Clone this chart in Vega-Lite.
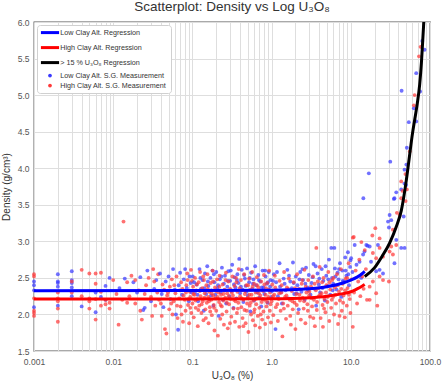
{
"$schema":"https://vega.github.io/schema/vega-lite/v6.json",
"autosize":{"type":"none"},
"width":396,"height":329,
"padding":{"left":34,"top":22,"right":16,"bottom":31},
"background":"white",
"config":{"font":"Liberation Sans","view":{"stroke":"#555555","strokeWidth":1.3}},
"title":{"text":"Scatterplot: Density vs Log U₃O₈","fontSize":13.5,"font":"Liberation Sans","fontWeight":"normal","color":"#333333","offset":5},
"datasets":{
"lines":[
{"s":"a","x":0.001,"y":2.325},{"s":"a","x":0.1,"y":2.326},{"s":"a","x":1,"y":2.33},{"s":"a","x":3,"y":2.35},{"s":"a","x":5,"y":2.38},{"s":"a","x":8,"y":2.43},{"s":"a","x":10,"y":2.47},{"s":"a","x":12,"y":2.51},{"s":"a","x":14,"y":2.56},{"s":"a","x":15,"y":2.59},
{"s":"b","x":0.001,"y":2.21},{"s":"b","x":0.1,"y":2.211},{"s":"b","x":1,"y":2.215},{"s":"b","x":3,"y":2.23},{"s":"b","x":5,"y":2.25},{"s":"b","x":8,"y":2.285},{"s":"b","x":10,"y":2.31},{"s":"b","x":12,"y":2.35},{"s":"b","x":14,"y":2.39},{"s":"b","x":15,"y":2.41},
{"s":"c","x":15,"y":2.52},{"s":"c","x":20,"y":2.64},{"s":"c","x":25,"y":2.8},{"s":"c","x":31,"y":2.98},{"s":"c","x":37.5,"y":3.2},{"s":"c","x":43.4,"y":3.42},{"s":"c","x":50,"y":3.82},{"s":"c","x":55,"y":4.16},{"s":"c","x":60,"y":4.47},{"s":"c","x":64,"y":4.66},{"s":"c","x":69,"y":4.88},{"s":"c","x":74,"y":5.14},{"s":"c","x":78,"y":5.45},{"s":"c","x":81,"y":5.75},{"s":"c","x":84,"y":6.05}
],
"pts":[
{"s":"d","x":0.001,"y":2.45},{"s":"d","x":0.001,"y":2.4},{"s":"d","x":0.001,"y":2.33},{"s":"d","x":0.001,"y":2.1},
{"s":"e","x":0.001,"y":2.55},{"s":"e","x":0.001,"y":2.52},{"s":"e","x":0.001,"y":2.22},{"s":"e","x":0.001,"y":2.05},{"s":"e","x":0.001,"y":2.02},{"s":"e","x":0.001,"y":1.98},
{"s":"d","x":0.002,"y":2.55},{"s":"d","x":0.002,"y":2.45},{"s":"d","x":0.002,"y":2.43},{"s":"d","x":0.002,"y":2.38},{"s":"d","x":0.002,"y":2.12},
{"s":"e","x":0.002,"y":2.3},{"s":"e","x":0.002,"y":2.22},{"s":"e","x":0.002,"y":2.18},{"s":"e","x":0.002,"y":2.08},{"s":"e","x":0.002,"y":1.9},
{"s":"d","x":0.003,"y":2.59},{"s":"d","x":0.003,"y":2.47},{"s":"d","x":0.003,"y":2.43},{"s":"d","x":0.003,"y":2.37},{"s":"d","x":0.003,"y":2.25},
{"s":"e","x":0.003,"y":2.45},{"s":"e","x":0.003,"y":2.3},
{"s":"e","x":0.004,"y":2.61},{"s":"e","x":0.004,"y":2.25},{"s":"d","x":0.004,"y":2.11},
{"s":"e","x":0.005,"y":2.56},{"s":"e","x":0.005,"y":2.22},{"s":"e","x":0.005,"y":2.18},{"s":"e","x":0.005,"y":2.08},
{"s":"e","x":0.006,"y":2.56},{"s":"e","x":0.006,"y":2.42},{"s":"e","x":0.006,"y":2.21},{"s":"e","x":0.006,"y":1.93},{"s":"d","x":0.006,"y":2.03},{"s":"d","x":0.006,"y":2.3},
{"s":"e","x":0.007,"y":2.57},{"s":"e","x":0.007,"y":2.31},{"s":"e","x":0.007,"y":2.12},{"s":"d","x":0.007,"y":2.24},
{"s":"d","x":0.008,"y":2.39},{"s":"d","x":0.008,"y":2.2},{"s":"e","x":0.008,"y":2.2},{"s":"e","x":0.008,"y":2.14},
{"s":"e","x":0.009,"y":2.16},{"s":"e","x":0.009,"y":2.08},{"s":"d","x":0.009,"y":2.5},
{"s":"e","x":0.01,"y":2.47},{"s":"e","x":0.011,"y":2.28},{"s":"e","x":0.0117,"y":1.86},{"s":"e","x":0.0135,"y":3.27},{"s":"d","x":0.012,"y":2.36},{"s":"e","x":0.013,"y":2.2},{"s":"d","x":0.014,"y":2.49},{"s":"e","x":0.015,"y":2.44},{"s":"e","x":0.015,"y":2.16},{"s":"e","x":0.016,"y":2.25},{"s":"e","x":0.017,"y":2.53},{"s":"d","x":0.018,"y":2.44},{"s":"e","x":0.019,"y":2.47},{"s":"e","x":0.019,"y":2.15},{"s":"d","x":0.02,"y":2.3},{"s":"e","x":0.021,"y":2.33},{"s":"e","x":0.022,"y":2.05},{"s":"d","x":0.022,"y":2.51},{"s":"e","x":0.023,"y":1.93},{"s":"d","x":0.024,"y":2.06},{"s":"d","x":0.025,"y":2.09},{"s":"e","x":0.026,"y":2.4},{"s":"d","x":0.027,"y":2.6},{"s":"e","x":0.028,"y":2.5},{"s":"e","x":0.03,"y":2.24},{"s":"d","x":0.03,"y":2.18},{"s":"e","x":0.031,"y":1.98},{"s":"e","x":0.032,"y":2.62},{"s":"d","x":0.033,"y":2.35},{"s":"e","x":0.034,"y":2.12},{"s":"d","x":0.035,"y":2.47},{"s":"e","x":0.036,"y":2.3},{"s":"e","x":0.037,"y":2.55},{"s":"e","x":0.038,"y":2.2},{"s":"d","x":0.039,"y":2.56},{"s":"e","x":0.04,"y":2.15},{"s":"d","x":0.041,"y":2.28},{"s":"e","x":0.042,"y":2.41},{"s":"d","x":0.043,"y":2.1},{"s":"e","x":0.044,"y":2.34},{"s":"e","x":0.045,"y":1.8},{"s":"d","x":0.046,"y":2.45},{"s":"e","x":0.047,"y":1.74},{"s":"e","x":0.048,"y":2.26},{"s":"d","x":0.05,"y":2.52},{"s":"e","x":0.051,"y":2.07},{"s":"e","x":0.052,"y":2.38},{"s":"d","x":0.053,"y":2.21},{"s":"e","x":0.055,"y":2.48},{"s":"e","x":0.056,"y":2.0},{"s":"d","x":0.057,"y":2.62},{"s":"e","x":0.058,"y":2.18},{"s":"d","x":0.06,"y":2.34},{"s":"e","x":0.061,"y":2.29},{"s":"d","x":0.062,"y":2.0},{"s":"e","x":0.063,"y":2.52},{"s":"e","x":0.065,"y":1.95},{"s":"d","x":0.066,"y":1.79},{"s":"d","x":0.067,"y":2.4},{"s":"e","x":0.068,"y":2.22},{"s":"d","x":0.07,"y":2.57},{"s":"e","x":0.071,"y":2.11},{"s":"e","x":0.072,"y":2.44},{"s":"d","x":0.074,"y":2.27},{"s":"e","x":0.075,"y":2.35},{"s":"e","x":0.076,"y":1.9},{"s":"d","x":0.078,"y":2.48},{"s":"e","x":0.08,"y":2.2},{"s":"d","x":0.081,"y":2.62},{"s":"e","x":0.082,"y":2.05},{"s":"e","x":0.084,"y":2.4},{"s":"d","x":0.085,"y":2.36},{"s":"e","x":0.086,"y":2.56},{"s":"e","x":0.088,"y":2.13},{"s":"d","x":0.09,"y":2.18},{"s":"e","x":0.091,"y":1.88},{"s":"d","x":0.092,"y":2.52},{"s":"e","x":0.093,"y":2.31},{"s":"e","x":0.094,"y":2.24},{"s":"d","x":0.095,"y":2.43},{"s":"e","x":0.096,"y":2.61},{"s":"e","x":0.097,"y":2.02},{"s":"d","x":0.098,"y":2.3},{"s":"e","x":0.099,"y":2.46},
{"s":"e","x":0.025,"y":2.28},{"s":"e","x":0.033,"y":2.45},{"s":"e","x":0.041,"y":1.98},{"s":"e","x":0.049,"y":2.3},{"s":"e","x":0.054,"y":2.15},{"s":"e","x":0.059,"y":2.4},{"s":"e","x":0.064,"y":2.12},{"s":"e","x":0.069,"y":2.33},{"s":"e","x":0.073,"y":2.0},{"s":"e","x":0.077,"y":2.26},{"s":"e","x":0.083,"y":2.3},{"s":"e","x":0.087,"y":2.47},{"s":"e","x":0.089,"y":2.21},{"s":"e","x":0.094,"y":2.09},
{"s":"d","x":0.101,"y":2.52},{"s":"d","x":0.107,"y":2.3},{"s":"d","x":0.113,"y":2.41},{"s":"d","x":0.118,"y":2.18},{"s":"d","x":0.123,"y":2.62},{"s":"d","x":0.128,"y":2.35},{"s":"d","x":0.134,"y":2.47},{"s":"d","x":0.139,"y":2.05},{"s":"d","x":0.144,"y":2.56},{"s":"d","x":0.149,"y":2.28},{"s":"d","x":0.154,"y":2.66},{"s":"d","x":0.159,"y":2.39},{"s":"d","x":0.164,"y":2.21},{"s":"d","x":0.169,"y":2.5},{"s":"d","x":0.174,"y":2.33},{"s":"d","x":0.179,"y":2.6},{"s":"d","x":0.184,"y":2.12},{"s":"d","x":0.189,"y":2.44},{"s":"d","x":0.195,"y":2.27},{"s":"d","x":0.2,"y":2.58},{"s":"d","x":0.207,"y":2.36},{"s":"d","x":0.215,"y":1.98},{"s":"d","x":0.222,"y":2.48},{"s":"d","x":0.228,"y":2.3},{"s":"d","x":0.236,"y":2.64},{"s":"d","x":0.243,"y":2.2},{"s":"d","x":0.25,"y":2.42},{"s":"d","x":0.258,"y":2.53},{"s":"d","x":0.267,"y":2.15},{"s":"d","x":0.276,"y":2.38},{"s":"d","x":0.284,"y":2.59},{"s":"d","x":0.293,"y":2.25},{"s":"d","x":0.3,"y":2.46},{"s":"d","x":0.31,"y":2.32},{"s":"d","x":0.318,"y":2.68},{"s":"d","x":0.33,"y":2.09},{"s":"d","x":0.34,"y":2.51},{"s":"d","x":0.35,"y":2.37},{"s":"d","x":0.36,"y":2.22},{"s":"d","x":0.37,"y":2.55},{"s":"d","x":0.38,"y":2.43},{"s":"d","x":0.39,"y":2.76},{"s":"d","x":0.4,"y":2.29},{"s":"d","x":0.42,"y":2.61},{"s":"d","x":0.43,"y":2.34},{"s":"d","x":0.44,"y":2.17},{"s":"d","x":0.46,"y":2.49},{"s":"d","x":0.47,"y":2.39},{"s":"d","x":0.49,"y":2.63},{"s":"d","x":0.5,"y":2.26},{"s":"d","x":0.52,"y":2.44},{"s":"d","x":0.54,"y":2.04},{"s":"d","x":0.55,"y":2.57},{"s":"d","x":0.57,"y":2.35},{"s":"d","x":0.59,"y":2.48},{"s":"d","x":0.6,"y":2.19},{"s":"d","x":0.62,"y":2.66},{"s":"d","x":0.64,"y":2.4},{"s":"d","x":0.66,"y":2.3},{"s":"d","x":0.68,"y":2.54},{"s":"d","x":0.7,"y":2.23},{"s":"d","x":0.72,"y":2.45},{"s":"d","x":0.74,"y":2.11},{"s":"d","x":0.77,"y":2.6},{"s":"d","x":0.79,"y":2.37},{"s":"d","x":0.81,"y":2.28},{"s":"d","x":0.84,"y":2.52},{"s":"d","x":0.87,"y":2.42},{"s":"d","x":0.89,"y":2.16},{"s":"d","x":0.92,"y":2.58},{"s":"d","x":0.94,"y":2.33},{"s":"d","x":0.97,"y":2.47},{"s":"d","x":0.99,"y":2.24},
{"s":"d","x":0.105,"y":2.44},{"s":"d","x":0.116,"y":2.27},{"s":"d","x":0.126,"y":2.5},{"s":"d","x":0.141,"y":2.36},{"s":"d","x":0.157,"y":2.45},{"s":"d","x":0.172,"y":2.26},{"s":"d","x":0.187,"y":2.55},{"s":"d","x":0.211,"y":2.4},{"s":"d","x":0.232,"y":2.52},{"s":"d","x":0.254,"y":2.33},{"s":"d","x":0.28,"y":2.46},{"s":"d","x":0.305,"y":2.6},{"s":"d","x":0.335,"y":2.41},{"s":"d","x":0.365,"y":2.47},{"s":"d","x":0.41,"y":2.38},{"s":"d","x":0.45,"y":2.54},{"s":"d","x":0.48,"y":2.31},{"s":"d","x":0.53,"y":2.5},{"s":"d","x":0.58,"y":2.42},{"s":"d","x":0.63,"y":2.33},{"s":"d","x":0.69,"y":2.47},{"s":"d","x":0.75,"y":2.37},{"s":"d","x":0.83,"y":2.6},{"s":"d","x":0.9,"y":2.44},{"s":"d","x":0.96,"y":2.38},
{"s":"e","x":0.1,"y":2.15},{"s":"e","x":0.102,"y":2.38},{"s":"e","x":0.104,"y":1.96},{"s":"e","x":0.106,"y":2.27},{"s":"e","x":0.108,"y":2.5},{"s":"e","x":0.11,"y":2.09},{"s":"e","x":0.112,"y":2.33},{"s":"e","x":0.115,"y":2.21},{"s":"e","x":0.117,"y":1.84},{"s":"e","x":0.12,"y":2.44},{"s":"e","x":0.122,"y":2.12},{"s":"e","x":0.125,"y":2.58},{"s":"e","x":0.127,"y":2.25},{"s":"e","x":0.13,"y":2.02},{"s":"e","x":0.133,"y":2.36},{"s":"e","x":0.135,"y":2.18},{"s":"e","x":0.138,"y":1.92},{"s":"e","x":0.14,"y":2.47},{"s":"e","x":0.143,"y":2.29},{"s":"e","x":0.146,"y":2.07},{"s":"e","x":0.15,"y":2.4},{"s":"e","x":0.152,"y":2.16},{"s":"e","x":0.155,"y":2.55},{"s":"e","x":0.158,"y":2.24},{"s":"e","x":0.16,"y":1.88},{"s":"e","x":0.163,"y":2.31},{"s":"e","x":0.166,"y":2.1},{"s":"e","x":0.17,"y":2.43},{"s":"e","x":0.173,"y":2.2},{"s":"e","x":0.176,"y":1.99},{"s":"e","x":0.18,"y":2.6},{"s":"e","x":0.183,"y":2.26},{"s":"e","x":0.186,"y":2.13},{"s":"e","x":0.19,"y":1.78},{"s":"e","x":0.193,"y":2.37},{"s":"e","x":0.196,"y":2.22},{"s":"e","x":0.2,"y":2.05},{"s":"e","x":0.205,"y":2.48},{"s":"e","x":0.21,"y":1.71},{"s":"e","x":0.213,"y":2.3},{"s":"e","x":0.217,"y":2.17},{"s":"e","x":0.22,"y":2.53},{"s":"e","x":0.225,"y":1.94},{"s":"e","x":0.23,"y":2.27},{"s":"e","x":0.235,"y":2.11},{"s":"e","x":0.24,"y":2.41},{"s":"e","x":0.245,"y":2.19},{"s":"e","x":0.25,"y":1.86},{"s":"e","x":0.255,"y":2.34},{"s":"e","x":0.26,"y":2.23},{"s":"e","x":0.265,"y":2.57},{"s":"e","x":0.27,"y":2.04},{"s":"e","x":0.275,"y":2.29},{"s":"e","x":0.28,"y":1.81},{"s":"e","x":0.285,"y":2.45},{"s":"e","x":0.29,"y":2.14},{"s":"e","x":0.3,"y":2.35},{"s":"e","x":0.305,"y":2.21},{"s":"e","x":0.31,"y":1.97},{"s":"e","x":0.32,"y":2.52},{"s":"e","x":0.325,"y":2.26},{"s":"e","x":0.33,"y":2.08},{"s":"e","x":0.34,"y":2.39},{"s":"e","x":0.345,"y":1.9},{"s":"e","x":0.35,"y":2.18},{"s":"e","x":0.36,"y":2.44},{"s":"e","x":0.365,"y":2.02},{"s":"e","x":0.37,"y":2.31},{"s":"e","x":0.38,"y":2.16},{"s":"e","x":0.385,"y":2.62},{"s":"e","x":0.39,"y":1.83},{"s":"e","x":0.4,"y":2.25},{"s":"e","x":0.41,"y":2.47},{"s":"e","x":0.415,"y":2.1},{"s":"e","x":0.42,"y":2.33},{"s":"e","x":0.43,"y":1.95},{"s":"e","x":0.44,"y":2.2},{"s":"e","x":0.45,"y":2.55},{"s":"e","x":0.455,"y":2.06},{"s":"e","x":0.46,"y":2.28},{"s":"e","x":0.47,"y":1.88},{"s":"e","x":0.48,"y":2.4},{"s":"e","x":0.49,"y":2.15},{"s":"e","x":0.5,"y":2.23},{"s":"e","x":0.51,"y":1.76},{"s":"e","x":0.52,"y":2.49},{"s":"e","x":0.53,"y":2.12},{"s":"e","x":0.54,"y":2.34},{"s":"e","x":0.55,"y":2.0},{"s":"e","x":0.56,"y":2.27},{"s":"e","x":0.57,"y":2.58},{"s":"e","x":0.58,"y":1.92},{"s":"e","x":0.59,"y":2.19},{"s":"e","x":0.6,"y":2.42},{"s":"e","x":0.61,"y":2.07},{"s":"e","x":0.62,"y":1.85},{"s":"e","x":0.63,"y":2.3},{"s":"e","x":0.64,"y":2.14},{"s":"e","x":0.65,"y":2.51},{"s":"e","x":0.66,"y":2.22},{"s":"e","x":0.67,"y":1.98},{"s":"e","x":0.68,"y":2.37},{"s":"e","x":0.7,"y":2.09},{"s":"e","x":0.71,"y":1.82},{"s":"e","x":0.72,"y":2.26},{"s":"e","x":0.74,"y":2.45},{"s":"e","x":0.75,"y":2.17},{"s":"e","x":0.76,"y":1.93},{"s":"e","x":0.78,"y":2.32},{"s":"e","x":0.79,"y":2.04},{"s":"e","x":0.8,"y":2.54},{"s":"e","x":0.82,"y":2.2},{"s":"e","x":0.83,"y":1.87},{"s":"e","x":0.85,"y":2.36},{"s":"e","x":0.86,"y":2.11},{"s":"e","x":0.88,"y":2.43},{"s":"e","x":0.9,"y":1.96},{"s":"e","x":0.91,"y":2.24},{"s":"e","x":0.93,"y":2.6},{"s":"e","x":0.95,"y":2.05},{"s":"e","x":0.96,"y":2.3},{"s":"e","x":0.98,"y":1.89},
{"s":"e","x":0.103,"y":2.28},{"s":"e","x":0.109,"y":2.19},{"s":"e","x":0.114,"y":2.41},{"s":"e","x":0.119,"y":2.06},{"s":"e","x":0.124,"y":2.32},{"s":"e","x":0.131,"y":2.14},{"s":"e","x":0.137,"y":2.52},{"s":"e","x":0.142,"y":2.23},{"s":"e","x":0.148,"y":1.95},{"s":"e","x":0.156,"y":2.35},{"s":"e","x":0.162,"y":2.18},{"s":"e","x":0.168,"y":2.04},{"s":"e","x":0.175,"y":2.29},{"s":"e","x":0.182,"y":2.45},{"s":"e","x":0.188,"y":2.09},{"s":"e","x":0.198,"y":2.32},{"s":"e","x":0.208,"y":2.24},{"s":"e","x":0.219,"y":2.38},{"s":"e","x":0.227,"y":2.13},{"s":"e","x":0.238,"y":2.0},{"s":"e","x":0.248,"y":2.28},{"s":"e","x":0.262,"y":2.47},{"s":"e","x":0.272,"y":2.16},{"s":"e","x":0.288,"y":2.25},{"s":"e","x":0.298,"y":1.88},{"s":"e","x":0.315,"y":2.3},{"s":"e","x":0.335,"y":2.2},{"s":"e","x":0.355,"y":2.5},{"s":"e","x":0.375,"y":2.08},{"s":"e","x":0.395,"y":2.36},{"s":"e","x":0.42,"y":2.22},{"s":"e","x":0.44,"y":1.84},{"s":"e","x":0.465,"y":2.32},{"s":"e","x":0.485,"y":2.05},{"s":"e","x":0.505,"y":2.4},{"s":"e","x":0.525,"y":2.27},{"s":"e","x":0.545,"y":2.16},{"s":"e","x":0.575,"y":2.38},{"s":"e","x":0.6,"y":2.03},{"s":"e","x":0.625,"y":2.21},{"s":"e","x":0.655,"y":2.4},{"s":"e","x":0.69,"y":2.29},{"s":"e","x":0.73,"y":2.0},{"s":"e","x":0.77,"y":2.21},{"s":"e","x":0.81,"y":2.41},{"s":"e","x":0.84,"y":2.27},{"s":"e","x":0.875,"y":2.17},{"s":"e","x":0.92,"y":2.34},{"s":"e","x":0.97,"y":2.14},
{"s":"d","x":1.01,"y":2.32},{"s":"d","x":1.07,"y":2.55},{"s":"d","x":1.12,"y":1.8},{"s":"d","x":1.14,"y":2.44},{"s":"d","x":1.2,"y":2.25},{"s":"d","x":1.26,"y":2.7},{"s":"d","x":1.28,"y":2.38},{"s":"d","x":1.35,"y":2.15},{"s":"d","x":1.42,"y":2.49},{"s":"d","x":1.5,"y":2.33},{"s":"d","x":1.58,"y":2.61},{"s":"d","x":1.63,"y":2.22},{"s":"d","x":1.72,"y":2.45},{"s":"d","x":1.8,"y":2.36},{"s":"d","x":1.86,"y":2.71},{"s":"d","x":1.93,"y":2.28},{"s":"d","x":2.02,"y":2.52},{"s":"d","x":2.12,"y":2.4},{"s":"d","x":2.2,"y":2.07},{"s":"d","x":2.3,"y":2.58},{"s":"d","x":2.38,"y":2.31},{"s":"d","x":2.5,"y":2.47},{"s":"d","x":2.62,"y":2.2},{"s":"d","x":2.72,"y":2.64},{"s":"d","x":2.85,"y":2.37},{"s":"d","x":2.95,"y":2.54},{"s":"d","x":3.1,"y":2.27},{"s":"d","x":3.2,"y":2.43},{"s":"d","x":3.38,"y":2.69},{"s":"d","x":3.5,"y":2.35},{"s":"d","x":3.65,"y":2.12},{"s":"d","x":3.8,"y":2.56},{"s":"d","x":3.95,"y":2.41},{"s":"d","x":4.1,"y":2.3},{"s":"d","x":4.3,"y":2.62},{"s":"d","x":4.5,"y":2.46},{"s":"d","x":4.7,"y":2.19},{"s":"d","x":4.9,"y":2.53},{"s":"d","x":5.1,"y":2.39},{"s":"d","x":5.3,"y":2.75},{"s":"d","x":5.5,"y":2.27},{"s":"d","x":5.67,"y":2.91},{"s":"d","x":5.8,"y":2.5},{"s":"d","x":6.0,"y":2.42},{"s":"d","x":6.2,"y":2.91},{"s":"d","x":6.3,"y":2.63},{"s":"d","x":6.6,"y":2.34},{"s":"d","x":6.8,"y":2.57},{"s":"d","x":7.0,"y":2.48},{"s":"d","x":7.3,"y":2.7},{"s":"d","x":7.6,"y":2.24},{"s":"d","x":7.8,"y":2.6},{"s":"d","x":8.2,"y":2.45},{"s":"d","x":8.5,"y":2.78},{"s":"d","x":8.8,"y":2.53},{"s":"d","x":9.2,"y":2.85},{"s":"d","x":9.5,"y":2.4},{"s":"d","x":9.8,"y":2.65},
{"s":"d","x":1.04,"y":2.46},{"s":"d","x":1.17,"y":2.58},{"s":"d","x":1.31,"y":2.3},{"s":"d","x":1.46,"y":2.42},{"s":"d","x":1.66,"y":2.53},{"s":"d","x":1.9,"y":2.43},{"s":"d","x":2.08,"y":2.29},{"s":"d","x":2.25,"y":2.48},{"s":"d","x":2.45,"y":2.62},{"s":"d","x":2.67,"y":2.42},{"s":"d","x":2.9,"y":2.33},{"s":"d","x":3.3,"y":2.51},{"s":"d","x":3.6,"y":2.66},{"s":"d","x":4.0,"y":2.49},{"s":"d","x":4.4,"y":2.36},{"s":"d","x":4.8,"y":2.66},{"s":"d","x":5.2,"y":2.48},{"s":"d","x":5.9,"y":2.33},{"s":"d","x":6.4,"y":2.52},{"s":"d","x":7.1,"y":2.62},{"s":"d","x":7.9,"y":2.46},{"s":"d","x":8.6,"y":2.6},{"s":"d","x":9.3,"y":2.55},{"s":"d","x":9.9,"y":2.74},
{"s":"e","x":1.0,"y":2.18},{"s":"e","x":1.02,"y":2.41},{"s":"e","x":1.05,"y":1.99},{"s":"e","x":1.08,"y":2.27},{"s":"e","x":1.1,"y":2.53},{"s":"e","x":1.13,"y":2.1},{"s":"e","x":1.16,"y":2.33},{"s":"e","x":1.2,"y":1.91},{"s":"e","x":1.23,"y":2.21},{"s":"e","x":1.26,"y":2.46},{"s":"e","x":1.3,"y":2.05},{"s":"e","x":1.33,"y":2.3},{"s":"e","x":1.37,"y":1.7},{"s":"e","x":1.4,"y":2.15},{"s":"e","x":1.44,"y":2.58},{"s":"e","x":1.48,"y":2.24},{"s":"e","x":1.52,"y":1.94},{"s":"e","x":1.56,"y":2.37},{"s":"e","x":1.6,"y":2.12},{"s":"e","x":1.65,"y":2.49},{"s":"e","x":1.7,"y":2.2},{"s":"e","x":1.75,"y":1.86},{"s":"e","x":1.8,"y":2.32},{"s":"e","x":1.85,"y":2.07},{"s":"e","x":1.9,"y":2.44},{"s":"e","x":1.95,"y":2.16},{"s":"e","x":2.0,"y":1.8},{"s":"e","x":2.05,"y":2.28},{"s":"e","x":2.1,"y":2.55},{"s":"e","x":2.16,"y":2.02},{"s":"e","x":2.22,"y":2.35},{"s":"e","x":2.28,"y":2.19},{"s":"e","x":2.34,"y":1.93},{"s":"e","x":2.4,"y":2.42},{"s":"e","x":2.47,"y":2.23},{"s":"e","x":2.54,"y":2.08},{"s":"e","x":2.6,"y":2.61},{"s":"e","x":2.67,"y":1.88},{"s":"e","x":2.75,"y":2.3},{"s":"e","x":2.83,"y":2.14},{"s":"e","x":2.9,"y":2.47},{"s":"e","x":2.98,"y":2.26},{"s":"e","x":3.06,"y":1.97},{"s":"e","x":3.15,"y":2.38},{"s":"e","x":3.24,"y":2.11},{"s":"e","x":3.33,"y":2.52},{"s":"e","x":3.42,"y":2.2},{"s":"e","x":3.52,"y":1.84},{"s":"e","x":3.62,"y":2.33},{"s":"e","x":3.67,"y":2.91},{"s":"e","x":3.72,"y":2.06},{"s":"e","x":3.83,"y":2.45},{"s":"e","x":3.94,"y":2.25},{"s":"e","x":4.05,"y":2.65},{"s":"e","x":4.16,"y":1.95},{"s":"e","x":4.28,"y":2.29},{"s":"e","x":4.4,"y":2.13},{"s":"e","x":4.45,"y":1.83},{"s":"e","x":4.52,"y":2.5},{"s":"e","x":4.65,"y":2.21},{"s":"e","x":4.78,"y":2.03},{"s":"e","x":4.92,"y":2.4},{"s":"e","x":5.06,"y":2.17},{"s":"e","x":5.2,"y":2.58},{"s":"e","x":5.35,"y":1.91},{"s":"e","x":5.5,"y":2.34},{"s":"e","x":5.65,"y":2.09},{"s":"e","x":5.8,"y":2.47},{"s":"e","x":5.97,"y":2.24},{"s":"e","x":6.14,"y":2.0},{"s":"e","x":6.3,"y":2.37},{"s":"e","x":6.5,"y":2.15},{"s":"e","x":6.7,"y":2.55},{"s":"e","x":6.9,"y":1.87},{"s":"e","x":7.1,"y":2.31},{"s":"e","x":7.3,"y":2.19},{"s":"e","x":7.5,"y":2.62},{"s":"e","x":7.7,"y":2.05},{"s":"e","x":7.9,"y":2.42},{"s":"e","x":8.1,"y":2.26},{"s":"e","x":8.4,"y":1.96},{"s":"e","x":8.6,"y":2.49},{"s":"e","x":8.9,"y":2.12},{"s":"e","x":9.1,"y":2.36},{"s":"e","x":9.4,"y":2.7},{"s":"e","x":9.7,"y":2.21},{"s":"e","x":9.9,"y":2.02},
{"s":"e","x":1.04,"y":2.25},{"s":"e","x":1.11,"y":2.37},{"s":"e","x":1.18,"y":2.14},{"s":"e","x":1.25,"y":2.29},{"s":"e","x":1.34,"y":2.4},{"s":"e","x":1.43,"y":2.08},{"s":"e","x":1.54,"y":2.26},{"s":"e","x":1.62,"y":2.35},{"s":"e","x":1.72,"y":1.98},{"s":"e","x":1.83,"y":2.18},{"s":"e","x":1.97,"y":2.36},{"s":"e","x":2.08,"y":2.13},{"s":"e","x":2.25,"y":2.27},{"s":"e","x":2.44,"y":2.47},{"s":"e","x":2.57,"y":2.18},{"s":"e","x":2.7,"y":2.38},{"s":"e","x":2.87,"y":2.05},{"s":"e","x":3.0,"y":2.31},{"s":"e","x":3.2,"y":2.22},{"s":"e","x":3.37,"y":1.95},{"s":"e","x":3.5,"y":2.42},{"s":"e","x":3.75,"y":2.17},{"s":"e","x":3.9,"y":2.36},{"s":"e","x":4.1,"y":2.27},{"s":"e","x":4.35,"y":2.44},{"s":"e","x":4.6,"y":2.08},{"s":"e","x":4.85,"y":2.3},{"s":"e","x":5.1,"y":2.24},{"s":"e","x":5.4,"y":2.44},{"s":"e","x":5.75,"y":2.2},{"s":"e","x":6.05,"y":2.5},{"s":"e","x":6.4,"y":2.27},{"s":"e","x":6.8,"y":2.4},{"s":"e","x":7.2,"y":1.98},{"s":"e","x":7.6,"y":2.35},{"s":"e","x":8.0,"y":2.16},{"s":"e","x":8.5,"y":2.33},{"s":"e","x":9.0,"y":2.5},{"s":"e","x":9.5,"y":2.27},
{"s":"d","x":10.1,"y":2.77},{"s":"d","x":10.5,"y":2.58},{"s":"d","x":11.2,"y":2.95},{"s":"d","x":11.8,"y":2.68},{"s":"d","x":12.9,"y":2.72},{"s":"d","x":13.5,"y":2.5},{"s":"d","x":14.3,"y":2.82},{"s":"d","x":14.4,"y":3.59},{"s":"d","x":14.9,"y":2.86},{"s":"d","x":15.7,"y":2.95},{"s":"d","x":16.3,"y":2.94},{"s":"d","x":16.9,"y":3.93},{"s":"d","x":17.3,"y":2.93},{"s":"d","x":18.0,"y":2.72},{"s":"d","x":20.9,"y":2.59},{"s":"d","x":22.0,"y":2.95},{"s":"d","x":23.1,"y":2.61},{"s":"d","x":25.5,"y":2.56},{"s":"d","x":29.5,"y":3.27},{"s":"d","x":30.3,"y":3.19},{"s":"d","x":30.9,"y":3.36},{"s":"d","x":31.5,"y":4.09},{"s":"d","x":32.4,"y":3.29},{"s":"d","x":35.0,"y":3.58},{"s":"d","x":35.6,"y":2.7},{"s":"d","x":35.6,"y":3.59},{"s":"d","x":37.5,"y":3.67},{"s":"d","x":37.5,"y":3.02},{"s":"d","x":43.3,"y":2.91},{"s":"d","x":43.3,"y":3.71},{"s":"d","x":43.8,"y":5.06},{"s":"d","x":46.5,"y":3.34},{"s":"d","x":47.6,"y":3.79},{"s":"d","x":47.7,"y":3.98},{"s":"d","x":47.8,"y":2.91},{"s":"d","x":50.0,"y":3.77},{"s":"d","x":50.3,"y":4.05},{"s":"d","x":51.0,"y":4.28},{"s":"d","x":54.0,"y":4.63},{"s":"d","x":62.6,"y":4.82},{"s":"d","x":67.0,"y":4.64},{"s":"d","x":67.0,"y":5.3},{"s":"d","x":75.0,"y":5.05},{"s":"d","x":80.0,"y":5.74},{"s":"d","x":85.5,"y":5.62},
{"s":"e","x":10.2,"y":2.48},{"s":"e","x":10.6,"y":3.05},{"s":"e","x":10.6,"y":1.83},{"s":"e","x":10.9,"y":3.06},{"s":"e","x":11.0,"y":2.3},{"s":"e","x":11.5,"y":2.6},{"s":"e","x":12.0,"y":2.15},{"s":"e","x":12.4,"y":2.45},{"s":"e","x":12.8,"y":2.75},{"s":"e","x":13.2,"y":2.25},{"s":"e","x":13.6,"y":2.99},{"s":"e","x":14.0,"y":2.52},{"s":"e","x":14.5,"y":2.35},{"s":"e","x":15.0,"y":2.88},{"s":"e","x":15.5,"y":2.62},{"s":"e","x":16.0,"y":2.2},{"s":"e","x":17.3,"y":2.38},{"s":"e","x":17.3,"y":2.2},{"s":"e","x":18.7,"y":3.08},{"s":"e","x":19.0,"y":2.84},{"s":"e","x":19.0,"y":2.45},{"s":"e","x":20.4,"y":3.18},{"s":"e","x":20.9,"y":2.77},{"s":"e","x":20.9,"y":2.29},{"s":"e","x":21.6,"y":2.12},{"s":"e","x":23.1,"y":3.04},{"s":"e","x":23.1,"y":2.91},{"s":"e","x":23.1,"y":2.52},{"s":"e","x":25.5,"y":2.79},{"s":"e","x":25.5,"y":2.47},{"s":"e","x":30.3,"y":2.45},{"s":"e","x":30.9,"y":2.86},{"s":"e","x":32.4,"y":2.93},{"s":"e","x":34.0,"y":3.16},{"s":"e","x":34.0,"y":2.82},{"s":"e","x":37.5,"y":2.95},{"s":"e","x":38.2,"y":3.39},{"s":"e","x":41.4,"y":3.36},{"s":"e","x":43.3,"y":3.82},{"s":"e","x":43.3,"y":3.59},{"s":"e","x":45.2,"y":3.69},{"s":"e","x":49.0,"y":3.92},{"s":"e","x":49.2,"y":3.55},{"s":"e","x":51.0,"y":3.71},{"s":"e","x":55.5,"y":4.23},{"s":"e","x":62.6,"y":4.86},{"s":"e","x":64.0,"y":5.0},{"s":"e","x":72.6,"y":5.53},{"s":"e","x":76.0,"y":5.66}
]
},
"encoding":{
"x":{"field":"x","type":"quantitative","scale":{"type":"log","domain":[0.001,100],"nice":false},
"axis":{"title":"U₃O₈ (%)","titleFont":"Liberation Sans","titleFontSize":10,"titleFontWeight":"normal","titleColor":"#333333","titlePadding":5,
"values":[0.001,0.002,0.003,0.004,0.005,0.006,0.007,0.008,0.009,0.01,0.02,0.03,0.04,0.05,0.06,0.07,0.08,0.09,0.1,0.2,0.3,0.4,0.5,0.6,0.7,0.8,0.9,1,2,3,4,5,6,7,8,9,10,20,30,40,50,60,70,80,90,100],
"labelExpr":"datum.value==0.001?'0.001':datum.value==0.01?'0.01':datum.value==0.1?'0.1':datum.value==1?'1.0':datum.value==10?'10.0':datum.value==100?'100.0':''",
"labelOverlap":false,"labelFlush":false,"labelBound":false,"labelFontSize":8.5,"labelColor":"#555555","labelPadding":6,
"ticks":false,"domain":false,"grid":true,"gridColor":"#dedede","gridWidth":1}},
"y":{"field":"y","type":"quantitative","scale":{"domain":[1.5,6],"nice":false},
"axis":{"title":"Density (g/cm³)","titleFontSize":10,"titleFontWeight":"normal","titleColor":"#333333","titlePadding":6,
"values":[1.5,2,2.5,3,3.5,4,4.5,5,5.5,6],"format":".1f","labelFontSize":8.5,"labelColor":"#555555","labelPadding":5,
"ticks":false,"domain":false,"grid":true,"gridColor":"#dedede","gridWidth":1}},
"color":{"field":"s","type":"nominal","scale":{"domain":["a","b","c","d","e"],"range":["#0000ff","#ff0000","#000000","#3a3aff","#ff3a3a"]},
"legend":{"title":null,"orient":"top-left","offset":3,"padding":4,"fillColor":"white","strokeColor":"#d0d0d0","cornerRadius":3,
"labelFontSize":7.2,"labelColor":"#333333","symbolSize":50,"labelOffset":12,"rowPadding":2,
"labelExpr":"datum.value=='a'?'Low Clay Alt. Regression':datum.value=='b'?'High Clay Alt. Regression':datum.value=='c'?'> 15 % U₃O₈ Regression':datum.value=='d'?'Low Clay Alt. S.G. Measurement':'High Clay Alt. S.G. Measurement'",
"encode":{"symbols":{"update":{
"shape":{"signal":"datum.index < 3 ? 'stroke' : 'circle'"},
"stroke":{"signal":"datum.index < 3 ? scale('color', datum.value) : 'transparent'"},
"fill":{"signal":"datum.index < 3 ? 'transparent' : scale('color', datum.value)"},
"strokeWidth":{"signal":"datum.index < 3 ? 3 : 0"},
"size":{"signal":"datum.index < 3 ? 330 : 14"},
"opacity":{"value":1},
"xc":{"value":9}
}}}}}
},
"layer":[
{"data":{"name":"pts"},"mark":{"type":"circle","size":15,"opacity":0.72}},
{"data":{"name":"lines"},"mark":{"type":"line","strokeWidth":3,"clip":true,"interpolate":"monotone"},"encoding":{"order":{"field":"x","type":"quantitative"}}}
]
}
